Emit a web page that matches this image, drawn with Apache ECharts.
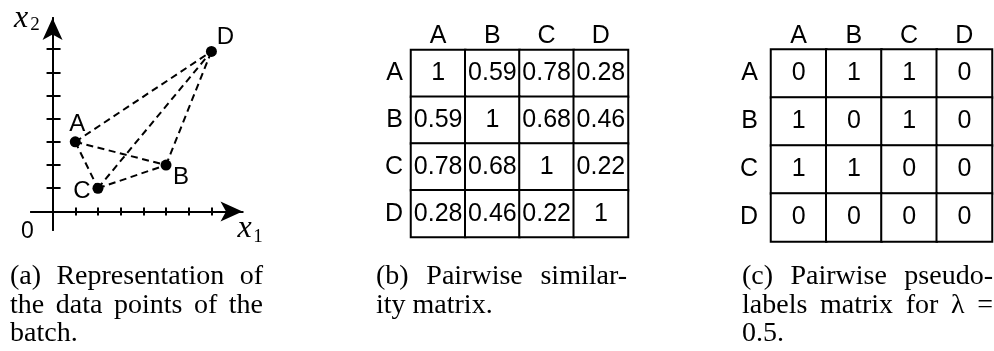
<!DOCTYPE html>
<html>
<head>
<meta charset="utf-8">
<script src="https://cdn.jsdelivr.net/npm/echarts@6/dist/echarts.min.js"></script>
<style>
  html, body { margin: 0; padding: 0; background: #fff; }
  #main { width: 994px; height: 351px; }
</style>
</head>
<body>
<div id="main"></div>
<script>
// data
const names = ["A", "B", "C", "D"];
const pointX = [1, 5, 2, 7];
const pointY = [3, 2, 1, 6.9];
const edges = [["A", "D"], ["A", "B"], ["A", "C"], ["C", "B"], ["C", "D"], ["B", "D"]];
const axisTicks = [1, 2, 3, 4, 5, 6, 7];
const similarity = [
  [1, 0.59, 0.78, 0.28],
  [0.59, 1, 0.68, 0.46],
  [0.78, 0.68, 1, 0.22],
  [0.28, 0.46, 0.22, 1],
];
const pseudoLabels = [
  [0, 1, 1, 0],
  [1, 0, 1, 0],
  [1, 1, 0, 0],
  [0, 0, 0, 0],
];
const captionA = ["(a) Representation of", "the data points of the", "batch."];
const captionB = ["(b) Pairwise similar-", "ity matrix."];
const captionC = ["(c) Pairwise pseudo-", "labels matrix for \u03bb =", "0.5."];

const SANS = "Liberation Sans";
const SERIF = "Liberation Serif";

const myChart = echarts.init(document.getElementById("main"), null, { width: 994, height: 351 });

// point label offsets (style only)
const labelOffset = { A: [2, -17], B: [15, 12], C: [-16, 3], D: [14, -14] };

const points = names.map((n, i) => [pointX[i], pointY[i]]);
const ptOf = (n) => points[names.indexOf(n)];

function toCells(m) {
  const out = [];
  m.forEach((row, r) => row.forEach((v, c) => out.push([c, r, v])));
  return out;
}

// justified caption lines, like LaTeX does it
const capSize = 28;
const ctx = document.createElement("canvas").getContext("2d");
ctx.font = capSize + 'px "' + SERIF + '"';
function caption(lines, x0, width, y0, gap) {
  const out = [];
  lines.forEach((line, i) => {
    const words = line.split(" ");
    const ws = words.map((w) => ctx.measureText(w).width);
    const total = ws.reduce((a, b) => a + b, 0);
    const last = i === lines.length - 1;
    const space = last || words.length < 2 ? ctx.measureText(" ").width : (width - total) / (words.length - 1);
    let x = x0;
    words.forEach((w, j) => {
      out.push({
        type: "text", x: x, y: y0 + i * gap,
        style: { text: w, fontSize: capSize, fontFamily: SERIF, fill: "#000", verticalAlign: "middle" },
      });
      x += ws[j] + space;
    });
  });
  return out;
}

function valueAxis(extra) {
  return Object.assign({
    gridIndex: 0,
    type: "value",
    axisLabel: { show: false },
    splitLine: { show: false },
  }, extra);
}

const arrowLine = (sym) => ({
  onZero: true, onZeroAxisIndex: 0,
  symbol: ["none", sym], symbolSize: [15, 22],
  lineStyle: { color: "#000", width: 2 },
});
const ticks = (inside, len) => ({
  show: true, inside: inside, length: len, customValues: axisTicks,
  lineStyle: { color: "#000", width: 2 },
});

const catAxis = (grid, extra) => Object.assign({
  gridIndex: grid,
  type: "category",
  data: names,
  axisLine: { show: false },
  axisTick: { show: false },
  splitLine: { show: false },
}, extra);
const catLabel = (margin) => ({ fontSize: 25, fontFamily: SANS, color: "#000", margin: margin });

const cellStyle = {
  itemStyle: { color: "#fff", borderColor: "#000", borderWidth: 2 },
  label: { show: true, formatter: (p) => String(p.value[2]), fontSize: 25, fontFamily: SANS, color: "#000" },
  emphasis: { disabled: true },
};

const option = {
  animation: false,
  backgroundColor: "#fff",
  grid: [
    { left: 31, right: 751.5, top: 18, bottom: 121 },
    { left: 411, top: 50, width: 217, height: 187 },
    { left: 771, top: 49.5, width: 221, height: 192 },
  ],
  xAxis: [
    valueAxis({ min: -0.95, max: 8.37, position: "bottom", axisLine: arrowLine("arrow"), axisTick: ticks(true, 4) }),
    valueAxis({ min: -0.95, max: 8.37, position: "bottom", axisLine: arrowLine("none"), axisTick: ticks(false, 4) }),
    catAxis(1, { position: "top", axisLabel: catLabel(1) }),
    catAxis(2, { position: "top", axisLabel: catLabel(1) }),
  ],
  yAxis: [
    valueAxis({ min: -0.8, max: 8.34, position: "left", axisLine: arrowLine("arrow"), axisTick: ticks(true, 8) }),
    valueAxis({ min: -0.8, max: 8.34, position: "left", axisLine: arrowLine("none"), axisTick: ticks(false, 6) }),
    catAxis(1, { inverse: true, axisLabel: catLabel(8) }),
    catAxis(2, { inverse: true, axisLabel: catLabel(13) }),
  ],
  series: [
    {
      type: "lines",
      coordinateSystem: "cartesian2d",
      xAxisIndex: 0, yAxisIndex: 0,
      data: edges.map(([a, b]) => ({ coords: [ptOf(a), ptOf(b)] })),
      lineStyle: { color: "#000", width: 2, type: [7, 4.5], opacity: 1 },
      silent: true,
    },
    {
      type: "scatter",
      xAxisIndex: 0, yAxisIndex: 0,
      symbolSize: 11,
      itemStyle: { color: "#000", opacity: 1 },
      data: names.map((n, i) => ({
        name: n, value: points[i],
        label: { offset: labelOffset[n] },
      })),
      label: { show: true, position: "inside", formatter: "{b}", fontSize: 24, fontFamily: SANS, color: "#000" },
      emphasis: { disabled: true },
    },
    Object.assign({ type: "heatmap", xAxisIndex: 2, yAxisIndex: 2, data: toCells(similarity) }, cellStyle),
    Object.assign({ type: "heatmap", xAxisIndex: 3, yAxisIndex: 3, data: toCells(pseudoLabels) }, cellStyle),
  ],
  graphic: [
    { type: "text", x: 27.5, y: 232, style: { text: "0", fontSize: 23, fontFamily: SANS, fill: "#000", align: "center", verticalAlign: "middle" } },
    { type: "text", x: 21, y: 19, style: { text: "x", fontSize: 32, fontStyle: "italic", fontFamily: SERIF, fill: "#000", align: "center", verticalAlign: "middle" } },
    { type: "text", x: 35, y: 25, style: { text: "2", fontSize: 19, fontFamily: SERIF, fill: "#000", align: "center", verticalAlign: "middle" } },
    { type: "text", x: 244.5, y: 229, style: { text: "x", fontSize: 32, fontStyle: "italic", fontFamily: SERIF, fill: "#000", align: "center", verticalAlign: "middle" } },
    { type: "text", x: 258, y: 237, style: { text: "1", fontSize: 19, fontFamily: SERIF, fill: "#000", align: "center", verticalAlign: "middle" } },
  ]
    .concat(caption(captionA, 10, 253, 277, 28.5))
    .concat(caption(captionB, 376, 251, 277, 28.5))
    .concat(caption(captionC, 742, 251, 277, 28.5)),
};

myChart.setOption(option);
</script>
</body>
</html>
